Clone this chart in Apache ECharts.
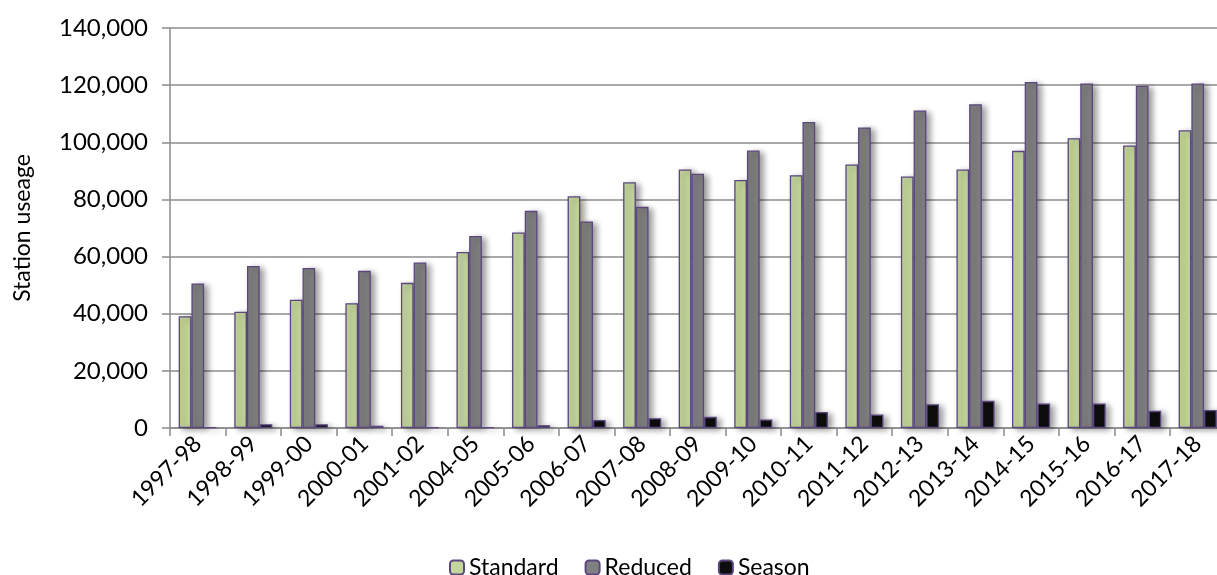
<!DOCTYPE html>
<html><head><meta charset="utf-8">
<script src="https://cdn.jsdelivr.net/npm/echarts@6/dist/echarts.min.js"></script>
<style>html,body{margin:0;padding:0;background:#fff}#c{width:1217px;height:575px}</style>
</head><body><div id="c"></div>
<script>
const categories = ['1997-98','1998-99','1999-00','2000-01','2001-02','2004-05','2005-06','2006-07','2007-08','2008-09','2009-10','2010-11','2011-12','2012-13','2013-14','2014-15','2015-16','2016-17','2017-18'];
const standard = [39100,40700,44900,43700,50800,61600,68400,81100,86000,90500,86800,88500,92200,88000,90500,97000,101400,98900,104200];
const reduced  = [50600,56700,56000,55000,57900,67200,76000,72300,77400,89000,97100,107100,105200,111100,113300,121100,120600,119800,120600];
const season   = [300,1300,1300,800,300,300,1000,2800,3400,3900,3000,5600,4700,8300,9500,8600,8600,6000,6300];
const yTicks = [0,20000,40000,60000,80000,100000,120000,140000];

const FONT = 'Lato';
const border = '#5b4680';
function s(name, data, color){
  return {name, type:'bar', data, barWidth:12.7, barGap:'0%',
    itemStyle:{color, borderColor:border, borderWidth:1.3,
      shadowBlur:6, shadowOffsetX:4, shadowOffsetY:2, shadowColor:'rgba(0,0,0,0.4)'}};
}
const chart = echarts.init(document.getElementById('c'));
chart.setOption({
  animation:false,
  textStyle:{fontFamily:FONT},
  grid:{left:170, top:28, width:1055.5, height:400, containLabel:false, outerBoundsMode:'none'},
  legend:{top:551, left:444, itemWidth:14, itemHeight:14, itemGap:26,
    textStyle:{fontFamily:FONT, fontSize:23, color:'#000'},
    data:['Standard','Reduced','Season']},
  xAxis:{type:'category', data:categories, boundaryGap:true,
    axisLine:{lineStyle:{color:'#8c8c8c', width:1.5}},
    axisTick:{show:true, length:8, alignWithLabel:false, lineStyle:{color:'#8c8c8c', width:1.5}},
    axisLabel:{rotate:45, interval:0, fontFamily:FONT, fontSize:23, color:'#000', margin:12}},
  yAxis:{type:'value', min:0, max:140000, interval:20000,
    name:'Station useage', nameLocation:'middle', nameGap:136,
    nameTextStyle:{fontFamily:FONT, fontSize:23, color:'#000'},
    axisLine:{show:true, lineStyle:{color:'#8c8c8c', width:1.5}},
    axisTick:{show:true, length:8, lineStyle:{color:'#8c8c8c', width:1.5}},
    splitLine:{lineStyle:{color:'#8c8c8c', width:1.5}},
    axisLabel:{fontFamily:FONT, fontSize:24, color:'#000', margin:22,
      formatter:v=> yTicks.includes(v) ? v.toLocaleString('en-US') : ''}},
  series:[s('Standard',standard,'#c4d79b'), s('Reduced',reduced,'#808080'), s('Season',season,'#0d0d0d')]
});
</script></body></html>
